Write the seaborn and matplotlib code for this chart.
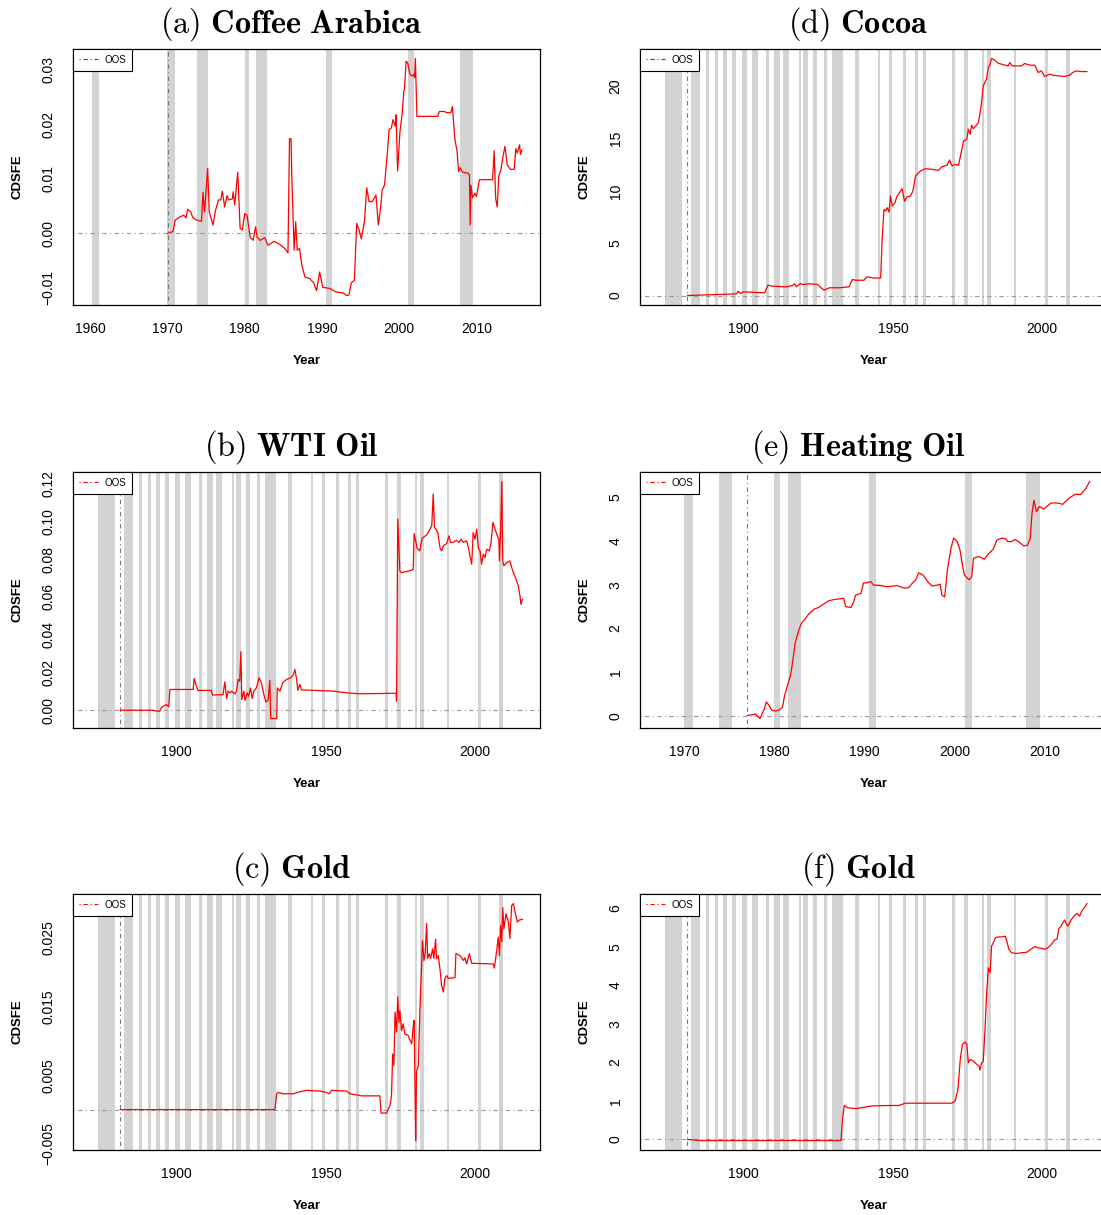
import matplotlib
matplotlib.use("Agg")
import matplotlib.pyplot as plt
from matplotlib.lines import Line2D
import seaborn as sns

# --- NBER recession dates (decimal years) ---
rec_start = [1873.75, 1882.17, 1887.17, 1890.5, 1893.0, 1895.92, 1899.42, 1902.67, 1907.33, 1910.0,
             1913.0, 1918.58, 1920.0, 1923.33, 1926.75, 1929.58, 1937.33, 1945.08, 1948.83, 1953.5,
             1957.58, 1960.25, 1969.92, 1973.83, 1980.0, 1981.5, 1990.5, 2001.17, 2007.92]
rec_end = [1879.25, 1885.42, 1888.33, 1891.42, 1894.5, 1897.5, 1901.0, 1904.67, 1908.5, 1912.08,
           1915.0, 1919.25, 1921.58, 1924.58, 1927.92, 1933.25, 1938.5, 1945.83, 1949.83, 1954.42,
           1958.33, 1961.17, 1970.92, 1975.25, 1980.58, 1982.92, 1991.25, 2001.92, 2009.5]

# --- (a) Coffee Arabica ---
coffee_year = [1970.0, 1970.7, 1971.0, 1971.6, 1972.1, 1972.4, 1972.6, 1973.0, 1973.3, 1973.8,
               1974.4, 1974.6, 1974.8, 1975.2, 1975.4, 1975.9, 1976.2, 1976.6, 1976.9, 1977.1,
               1977.4, 1977.7, 1977.9, 1978.4, 1978.5, 1978.7, 1979.1, 1979.4, 1979.7, 1980.0,
               1980.3, 1980.7, 1981.1, 1981.4, 1981.6, 1982.0, 1982.6, 1983.0, 1983.8, 1984.5,
               1985.2, 1985.6, 1985.8, 1986.0, 1986.1, 1986.4, 1986.6, 1986.8, 1987.1, 1987.4,
               1987.8, 1988.4, 1988.9, 1989.3, 1989.7, 1990.1, 1991.0, 1991.9, 1992.7, 1993.2,
               1993.5, 1993.8, 1994.2, 1994.5, 1994.8, 1995.1, 1995.5, 1995.8, 1996.1, 1996.5,
               1997.0, 1997.3, 1997.6, 1997.8, 1998.1, 1998.4, 1998.7, 1999.0, 1999.2, 1999.5,
               1999.6, 1999.8, 2000.1, 2000.4, 2000.6, 2000.7, 2000.9, 2001.1, 2001.4, 2001.7,
               2001.9, 2002.0, 2002.1, 2002.3, 2005.0, 2005.2, 2005.9, 2006.1, 2006.7, 2006.9,
               2007.2, 2007.5, 2007.7, 2007.9, 2008.2, 2008.9, 2009.1, 2009.2, 2009.3, 2009.5,
               2009.8, 2010.0, 2010.4, 2012.1, 2012.3, 2012.5, 2012.7, 2012.9, 2013.2, 2013.4,
               2013.7, 2014.0, 2014.4, 2014.9, 2015.1, 2015.3, 2015.6, 2015.7, 2015.9]
coffee_cdsfe = [0.0, 0.0003, 0.0024, 0.0030, 0.0033, 0.0028, 0.0044, 0.0039, 0.0028, 0.0024,
                0.0022, 0.0075, 0.0039, 0.0119, 0.0039, 0.0015, 0.0041, 0.0061, 0.0061, 0.0077,
                0.0048, 0.0069, 0.0061, 0.0063, 0.0076, 0.0052, 0.0112, 0.0009, 0.0006, 0.0036,
                0.0033, -0.0007, -0.0013, 0.0012, -0.0007, -0.0013, -0.0008, -0.0022, -0.0015, -0.0020,
                -0.0028, -0.0036, 0.0173, 0.0173, 0.0101, -0.0031, 0.0021, -0.0031, -0.0028, -0.0059,
                -0.0080, -0.0083, -0.0090, -0.0105, -0.0071, -0.0099, -0.0101, -0.0108, -0.0109, -0.0114,
                -0.0113, -0.0091, -0.0086, 0.0018, 0.0006, -0.0010, 0.0021, 0.0083, 0.0058, 0.0058,
                0.0070, 0.0015, 0.0047, 0.0079, 0.0088, 0.0134, 0.0190, 0.0193, 0.0208, 0.0196,
                0.0217, 0.0114, 0.0186, 0.0220, 0.0260, 0.0266, 0.0315, 0.0312, 0.0291, 0.0288,
                0.0291, 0.0285, 0.0320, 0.0214, 0.0214, 0.0223, 0.0223, 0.0221, 0.0221, 0.0232,
                0.0174, 0.0150, 0.0113, 0.0120, 0.0112, 0.0110, 0.0107, 0.0015, 0.0088, 0.0065,
                0.0073, 0.0067, 0.0098, 0.0098, 0.0151, 0.0064, 0.0048, 0.0104, 0.0118, 0.0137,
                0.0159, 0.0125, 0.0117, 0.0117, 0.0155, 0.0147, 0.0162, 0.0144, 0.0153]

# --- (b) WTI Oil ---
wti_year = [1881.0, 1892.0, 1893.2, 1894.3, 1894.9, 1896.5, 1897.3, 1897.7, 1905.5, 1905.8,
            1906.6, 1907.1, 1911.6, 1912.0, 1915.5, 1916.1, 1916.7, 1917.2, 1917.8, 1918.4,
            1919.5, 1920.0, 1920.6, 1921.1, 1921.5, 1921.8, 1922.5, 1922.9, 1923.6, 1924.1,
            1924.7, 1925.3, 1925.8, 1926.7, 1927.6, 1928.4, 1929.2, 1929.9, 1930.6, 1931.2,
            1931.5, 1933.5, 1933.7, 1934.6, 1935.5, 1936.8, 1938.2, 1939.0, 1939.6, 1940.2,
            1940.6, 1941.3, 1941.8, 1952.5, 1956.9, 1961.4, 1970.4, 1973.5, 1973.7, 1974.1,
            1974.8, 1975.4, 1978.8, 1979.3, 1979.6, 1980.1, 1980.6, 1981.5, 1982.3, 1983.8,
            1984.9, 1985.5, 1986.0, 1986.4, 1986.9, 1987.5, 1988.3, 1988.8, 1989.4, 1990.5,
            1991.3, 1991.8, 1992.7, 1993.8, 1994.6, 1995.3, 1996.1, 1997.2, 1997.8, 1998.3,
            1998.9, 1999.4, 2000.0, 2000.6, 2001.1, 2001.7, 2002.2, 2002.8, 2003.4, 2003.9,
            2004.8, 2005.4, 2006.0, 2006.7, 2007.5, 2008.0, 2008.2, 2008.6, 2009.0, 2009.3,
            2009.7, 2010.6, 2011.7, 2012.3, 2013.1, 2014.0, 2014.5, 2015.1, 2015.4, 2015.9]
wti_cdsfe = [0.0, 0.0, -0.0005, -0.0005, 0.0016, 0.0030, 0.0018, 0.0110, 0.0110, 0.0168,
             0.0127, 0.0105, 0.0105, 0.0080, 0.0083, 0.0150, 0.0062, 0.0101, 0.0092, 0.0101,
             0.0087, 0.0101, 0.0163, 0.0154, 0.0310, 0.0057, 0.0101, 0.0052, 0.0092, 0.0074,
             0.0118, 0.0062, 0.0101, 0.0118, 0.0172, 0.0145, 0.0083, 0.0044, 0.0052, 0.0158,
             -0.0044, -0.0044, 0.0118, 0.0101, 0.0145, 0.0163, 0.0172, 0.0186, 0.0216, 0.0163,
             0.0105, 0.0136, 0.0108, 0.0101, 0.0092, 0.0087, 0.0089, 0.0090, 0.0048, 0.1013,
             0.0738, 0.0729, 0.0742, 0.0747, 0.0936, 0.0898, 0.0859, 0.0844, 0.0912, 0.0929,
             0.0960, 0.0977, 0.1146, 0.0968, 0.0960, 0.0942, 0.0859, 0.0844, 0.0871, 0.0883,
             0.0924, 0.0889, 0.0889, 0.0901, 0.0889, 0.0906, 0.0889, 0.0898, 0.0862, 0.0818,
             0.0774, 0.0942, 0.0906, 0.0960, 0.0859, 0.0844, 0.0774, 0.0827, 0.0809, 0.0853,
             0.0844, 0.0889, 0.0995, 0.0960, 0.0924, 0.0906, 0.0791, 0.0951, 0.1212, 0.0791,
             0.0765, 0.0782, 0.0791, 0.0756, 0.0720, 0.0685, 0.0659, 0.0605, 0.0561, 0.0588]

# --- (c) Gold ---
gold_c_year = [1881.0, 1932.9, 1933.5, 1934.0, 1935.7, 1939.0, 1941.3, 1943.5, 1948.0, 1950.2,
               1951.1, 1951.9, 1956.9, 1958.1, 1960.8, 1962.0, 1968.1, 1968.5, 1970.4, 1971.5,
               1972.0, 1972.4, 1972.8, 1973.2, 1973.7, 1974.1, 1974.5, 1974.8, 1975.4, 1975.9,
               1976.5, 1977.6, 1978.2, 1978.8, 1979.3, 1979.6, 1979.9, 1980.1, 1980.4, 1981.0,
               1981.5, 1982.1, 1982.4, 1982.9, 1983.3, 1983.8, 1984.1, 1984.7, 1985.1, 1985.8,
               1986.2, 1986.8, 1987.1, 1987.7, 1988.3, 1988.8, 1989.4, 1989.9, 1990.5, 1991.0,
               1993.3, 1993.6, 1995.0, 1996.1, 1996.6, 1997.2, 1998.1, 1998.9, 2006.1, 2006.5,
               2007.3, 2007.8, 2008.2, 2008.6, 2009.0, 2009.3, 2009.7, 2010.4, 2011.2, 2011.7,
               2012.3, 2012.9, 2013.4, 2014.2, 2014.9, 2016.0]
gold_c_cdsfe = [0.0, 0.0, 0.0023, 0.0025, 0.0023, 0.0023, 0.0026, 0.0028, 0.0027, 0.0025,
                0.0023, 0.0028, 0.0027, 0.0023, 0.0021, 0.0020, 0.0020, -0.0005, -0.0005, 0.0006,
                0.0020, 0.0081, 0.0064, 0.0142, 0.0113, 0.0164, 0.0127, 0.0144, 0.0115, 0.0125,
                0.0110, 0.0108, 0.0101, 0.0096, 0.0122, 0.0130, 0.0025, -0.0045, 0.0055, 0.0064,
                0.0142, 0.0210, 0.0246, 0.0217, 0.0227, 0.0271, 0.0220, 0.0227, 0.0220, 0.0234,
                0.0220, 0.0248, 0.0220, 0.0224, 0.0203, 0.0181, 0.0171, 0.0191, 0.0195, 0.0191,
                0.0192, 0.0227, 0.0224, 0.0217, 0.0221, 0.0212, 0.0227, 0.0213, 0.0212, 0.0206,
                0.0232, 0.0251, 0.0224, 0.0268, 0.0244, 0.0294, 0.0263, 0.0285, 0.0273, 0.0249,
                0.0297, 0.0300, 0.0288, 0.0273, 0.0276, 0.0277]

# --- (d) Cocoa ---
cocoa_year = [1881.1, 1897.6, 1898.1, 1898.9, 1899.8, 1907.0, 1908.1, 1909.8, 1914.2, 1916.4,
              1917.0, 1917.6, 1919.0, 1919.8, 1922.0, 1924.8, 1925.9, 1927.0, 1928.7, 1932.0,
              1935.3, 1936.4, 1937.6, 1940.3, 1941.4, 1943.1, 1945.3, 1945.9, 1946.4, 1947.0,
              1947.6, 1948.1, 1948.7, 1949.2, 1949.8, 1950.7, 1951.4, 1952.6, 1953.1, 1953.9,
              1954.8, 1955.9, 1956.7, 1957.6, 1959.2, 1960.9, 1963.1, 1965.3, 1966.4, 1968.1,
              1969.0, 1969.8, 1970.9, 1972.0, 1972.9, 1973.7, 1974.8, 1975.3, 1975.9, 1976.4,
              1977.0, 1977.8, 1978.7, 1979.6, 1980.3, 1981.4, 1982.0, 1982.6, 1983.1, 1984.0,
              1985.3, 1987.6, 1988.7, 1989.2, 1990.0, 1993.1, 1994.2, 1995.9, 1997.6, 1998.7,
              1999.8, 2000.9, 2002.6, 2003.7, 2007.6, 2009.2, 2010.3, 2011.4, 2013.1, 2015.1]
cocoa_cdsfe = [0.0, 0.16, 0.41, 0.19, 0.35, 0.26, 0.99, 0.89, 0.83, 0.96,
               1.12, 0.83, 1.15, 1.05, 1.12, 1.05, 0.74, 0.51, 0.74, 0.74,
               0.83, 1.53, 1.46, 1.46, 1.79, 1.69, 1.66, 1.69, 5.36, 8.23,
               8.07, 8.39, 7.97, 9.50, 8.55, 8.87, 9.50, 9.98, 10.21, 9.02,
               9.44, 9.50, 9.98, 11.42, 11.89, 12.12, 12.06, 11.96, 12.31, 12.44,
               12.95, 12.38, 12.54, 12.44, 13.65, 14.77, 14.93, 15.89, 15.41, 16.27,
               15.95, 16.20, 16.53, 18.11, 20.03, 20.67, 21.79, 22.10, 22.65, 22.52,
               22.20, 22.01, 21.94, 22.27, 21.94, 21.94, 22.17, 22.01, 22.01, 21.31,
               21.46, 20.93, 21.15, 21.05, 20.93, 21.05, 21.31, 21.46, 21.40, 21.40]

# --- (e) Heating Oil ---
heat_year = [1977.0, 1977.9, 1978.4, 1978.9, 1979.1, 1979.4, 1979.7, 1980.1, 1980.6, 1980.9,
             1981.1, 1981.4, 1981.8, 1982.1, 1982.3, 1982.7, 1983.0, 1983.3, 1983.8, 1984.4,
             1984.9, 1985.5, 1986.0, 1986.6, 1987.7, 1987.9, 1988.5, 1988.8, 1989.0, 1989.6,
             1989.9, 1990.2, 1990.7, 1991.0, 1991.8, 1992.5, 1993.3, 1993.6, 1994.4, 1994.9,
             1995.3, 1995.7, 1996.0, 1996.5, 1997.0, 1997.5, 1998.1, 1998.4, 1998.6, 1998.9,
             1999.2, 1999.6, 1999.9, 2000.3, 2000.6, 2000.9, 2001.1, 2001.6, 2001.9, 2002.1,
             2002.6, 2002.9, 2003.3, 2003.8, 2004.3, 2004.7, 2005.3, 2005.7, 2005.9, 2006.3,
             2006.7, 2007.1, 2007.7, 2008.1, 2008.4, 2008.6, 2008.8, 2009.1, 2009.4, 2009.9,
             2010.7, 2011.4, 2012.0, 2012.7, 2013.4, 2014.0, 2014.6, 2015.0]
heat_cdsfe = [0.02, 0.05, -0.05, 0.18, 0.33, 0.25, 0.14, 0.12, 0.15, 0.21,
              0.44, 0.67, 0.94, 1.35, 1.66, 1.96, 2.12, 2.19, 2.33, 2.44,
              2.48, 2.56, 2.63, 2.66, 2.69, 2.50, 2.48, 2.61, 2.76, 2.80,
              3.04, 3.04, 3.07, 2.99, 2.98, 2.95, 2.97, 2.98, 2.92, 2.93,
              3.03, 3.11, 3.27, 3.22, 3.07, 2.97, 2.99, 3.01, 2.76, 2.72,
              3.33, 3.83, 4.06, 3.98, 3.79, 3.41, 3.22, 3.11, 3.18, 3.60,
              3.64, 3.62, 3.58, 3.71, 3.81, 4.02, 4.06, 4.04, 3.98, 3.98,
              4.03, 3.98, 3.88, 3.90, 4.06, 4.63, 4.92, 4.66, 4.78, 4.72,
              4.86, 4.86, 4.83, 4.97, 5.06, 5.05, 5.20, 5.35]

# --- (f) Gold ---
gold_f_year = [1881.1, 1885.3, 1932.6, 1933.1, 1933.7, 1934.8, 1937.6, 1943.1, 1948.7, 1952.0,
               1954.2, 1959.8, 1965.3, 1969.8, 1970.9, 1971.8, 1972.6, 1973.3, 1974.2, 1974.8,
               1975.3, 1975.9, 1977.0, 1978.1, 1978.9, 1979.2, 1979.8, 1980.3, 1980.9, 1981.4,
               1982.0, 1982.6, 1983.1, 1983.7, 1984.4, 1985.3, 1986.4, 1987.6, 1988.1, 1988.9,
               1989.8, 1991.4, 1993.1, 1994.8, 1995.9, 1997.6, 1998.7, 2000.0, 2001.1, 2002.0,
               2003.1, 2004.2, 2005.1, 2005.6, 2006.2, 2007.0, 2007.6, 2008.1, 2008.7, 2009.8,
               2010.9, 2011.8, 2012.6, 2013.3, 2014.2, 2015.1]
gold_f_cdsfe = [0.0, -0.03, -0.03, 0.52, 0.88, 0.82, 0.80, 0.87, 0.88, 0.88,
                0.94, 0.94, 0.94, 0.94, 1.00, 1.30, 2.08, 2.47, 2.53, 2.47,
                1.99, 2.08, 2.03, 1.95, 1.90, 1.80, 1.99, 2.03, 2.86, 3.72,
                4.46, 4.33, 5.02, 5.11, 5.24, 5.26, 5.26, 5.28, 5.18, 4.94,
                4.85, 4.83, 4.85, 4.86, 4.92, 5.01, 4.98, 4.96, 4.94, 4.98,
                5.06, 5.18, 5.21, 5.47, 5.52, 5.63, 5.70, 5.61, 5.54, 5.71,
                5.82, 5.87, 5.80, 5.93, 6.02, 6.13]

# --- Panel setup: (label, name, years, values, sample, oos start, yticks, fmt, labelled, xticks) ---
panels = [
    ("a", "Coffee\\ Arabica", coffee_year, coffee_cdsfe, (1960, 2016), 1970.0,
     [-0.01, 0.0, 0.01, 0.02, 0.03], "%.2f", None, [1960, 1970, 1980, 1990, 2000, 2010]),
    ("b", "WTI\\ Oil", wti_year, wti_cdsfe, (1871, 2016), 1881.0,
     [0.0, 0.02, 0.04, 0.06, 0.08, 0.10, 0.12], "%.2f", None, [1900, 1950, 2000]),
    ("c", "Gold", gold_c_year, gold_c_cdsfe, (1871, 2016), 1881.0,
     [-0.005, 0.0, 0.005, 0.01, 0.015, 0.02, 0.025, 0.03], "%.3f", [0, 2, 4, 6], [1900, 1950, 2000]),
    ("d", "Cocoa", cocoa_year, cocoa_cdsfe, (1871, 2016), 1881.0,
     [0, 5, 10, 15, 20], "%d", None, [1900, 1950, 2000]),
    ("e", "Heating\\ Oil", heat_year, heat_cdsfe, (1967, 2015), 1977.0,
     [0, 1, 2, 3, 4, 5], "%d", None, [1970, 1980, 1990, 2000, 2010]),
    ("f", "Gold", gold_f_year, gold_f_cdsfe, (1871, 2016), 1881.0,
     [0, 1, 2, 3, 4, 5, 6], "%d", None, [1900, 1950, 2000]),
]

# --- Style ---
sns.set_style("white")
plt.rcParams.update({
    "font.family": ["Liberation Sans", "DejaVu Sans"],
    "mathtext.fontset": "cm",
    "text.color": "black",
    "axes.labelcolor": "black",
    "axes.edgecolor": "black",
    "axes.linewidth": 0.9,
    "xtick.color": "black",
    "ytick.color": "black",
    "xtick.major.size": 5.5,
    "ytick.major.size": 5.5,
    "xtick.major.width": 0.9,
    "ytick.major.width": 0.9,
})

FW, FH = 1101, 1215
AW, AH = 467, 256
col_x = [73, 640]
row_y = [49, 472, 894]

fig = plt.figure(figsize=(FW / 100, FH / 100), dpi=100)

for i, (lab, name, yrs, vals, sample, oos, yticks, fmt, shown, xticks) in enumerate(panels):
    x0 = col_x[i // 3]
    y0 = row_y[i % 3]
    ax = fig.add_axes([x0 / FW, 1 - (y0 + AH) / FH, AW / FW, AH / FH])

    # recession shading inside the sample
    for s, e in zip(rec_start, rec_end):
        if e > sample[0] and s < sample[1]:
            ax.axvspan(max(s, sample[0]), min(e, sample[1]), color="#D3D3D3", lw=0, zorder=0)

    ax.axhline(0, color="#999999", lw=0.8, ls=(0, (1, 3, 4, 3)), zorder=1)
    ax.axvline(oos, color="#777777", lw=0.8, ls=(0, (1, 3, 4, 3)), zorder=1)

    sns.lineplot(x=yrs, y=vals, ax=ax, color="red", lw=0.9,
                 estimator=None, sort=False, errorbar=None, zorder=3)

    # R-style 4% padding
    xr = sample[1] - sample[0]
    ax.set_xlim(sample[0] - 0.04 * xr, sample[1] + 0.04 * xr)
    lo, hi = min(vals), max(vals)
    ax.set_ylim(lo - 0.04 * (hi - lo), hi + 0.04 * (hi - lo))

    ax.set_xticks(xticks)
    ax.set_xticklabels([str(t) for t in xticks], fontsize=10, color="black")
    ax.set_yticks(yticks)
    ylabels = [(fmt % t).replace("-", "\u2212") for t in yticks]
    if shown is not None:
        ylabels = [t if k in shown else "" for k, t in enumerate(ylabels)]
    ax.set_yticklabels(ylabels, fontsize=10, rotation=90, va="center", color="black")
    ax.tick_params(axis="both", direction="out", pad=7, length=5.5)

    ax.set_xlabel("Year", fontsize=9.5, fontweight="bold", color="black")
    ax.xaxis.set_label_coords(0.5, -0.195)
    ax.set_ylabel("CDSFE", fontsize=9.5, fontweight="bold", color="black")
    ax.yaxis.set_label_coords(-0.107, 0.5)

    for sp in ax.spines.values():
        sp.set_visible(True)
        sp.set_color("black")

    handle = Line2D([], [], color="red", lw=0.8, ls=(0, (1, 2.5, 4, 2.5)))
    leg = ax.legend([handle], ["OOS"], loc="upper left", bbox_to_anchor=(0, 1),
                    borderaxespad=0, fontsize=7, frameon=True, fancybox=False,
                    framealpha=1, edgecolor="black", handlelength=2.0,
                    borderpad=0.6, handletextpad=0.6)
    leg.get_frame().set_linewidth(0.8)
    for t in leg.get_texts():
        t.set_color("black")

    title = r"$\mathrm{(" + lab + r")}\ \mathbf{" + name + "}$"
    ax.text(0.467, 1 + 25 / AH, title, transform=ax.transAxes,
            ha="center", va="center", fontsize=23.3, color="black")

fig.savefig("out.png", dpi=100)
